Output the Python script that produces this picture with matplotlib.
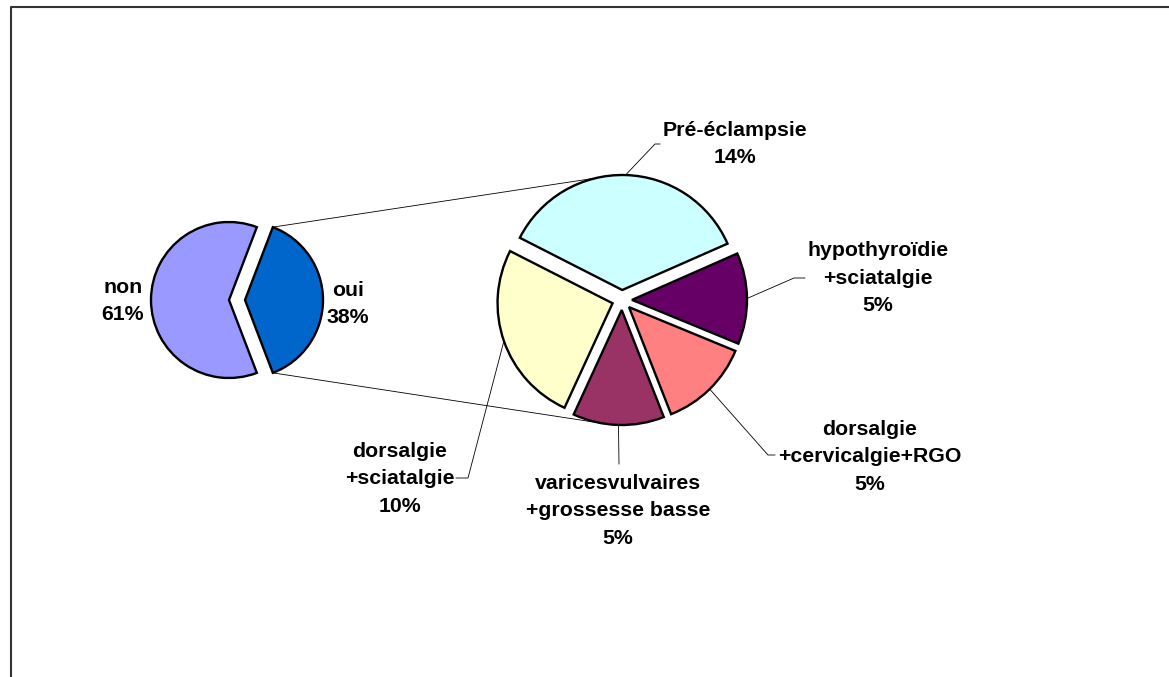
import numpy as np
import matplotlib.pyplot as plt

plt.rcParams["font.family"] = ["Liberation Sans", "DejaVu Sans"]

# data
main_labels = ["non\n61%", "oui\n38%"]
main_values = [61, 38]
main_colors = ["#9999FF", "#0066CC"]

detail_labels = [
    "Pré-éclampsie\n14%",
    "hypothyroïdie\n+sciatalgie\n5%",
    "dorsalgie\n+cervicalgie+RGO\n5%",
    "varicesvulvaires\n+grossesse basse\n5%",
    "dorsalgie\n+sciatalgie\n10%",
]
detail_values = [14, 5, 5, 5, 10]
detail_colors = ["#CCFFFF", "#660066", "#FF8080", "#993366", "#FFFFCC"]

# layout, in pixels from the top-left corner
W, H = 1169, 677
main_center, main_r = (229, 300), 78
detail_center, detail_r = (622, 300), 115
main_text_pos = [(123, 301), (348, 304)]
detail_text_pos = [(735, 144), (878, 278), (870, 457), (618, 511), (400, 479)]
# leader line: elbow point then end point
leaders = [
    [(655, 144), (660, 144)],
    [(794, 278), (805, 278)],
    [(768, 455), (775, 455)],
    [(619, 464)],
    [(468, 478), (456, 478)],
]


def px(x, y):
    return x, H - y


fig = plt.figure(figsize=(W / 100, H / 100), dpi=100)
ax = fig.add_axes([0, 0, 1, 1])

edge = dict(edgecolor="black", linewidth=1.7)

# explode is in data units (pixels here)
frac_oui = main_values[1] / sum(main_values)
wm, _ = ax.pie(main_values, colors=main_colors, center=px(*main_center),
               radius=main_r, startangle=180 * frac_oui, counterclock=True,
               explode=[0, 16], wedgeprops=edge, frame=True)

wd, _ = ax.pie(detail_values, colors=detail_colors, center=px(*detail_center),
               radius=detail_r, startangle=153, counterclock=False,
               explode=[10] * len(detail_values), wedgeprops=edge, frame=True)


def arc_point(w, ang):
    a = np.radians(ang)
    return w.center[0] + w.r * np.cos(a), w.center[1] + w.r * np.sin(a)


# connector lines between the two pies
oui = wm[1]
top_a = arc_point(oui, oui.theta2)
bot_a = arc_point(oui, oui.theta1)
top_b = arc_point(wd[0], 103)
bot_b = arc_point(wd[3], -99)
for p, q in [(top_a, top_b), (bot_a, bot_b)]:
    ax.plot([p[0], q[0]], [p[1], q[1]], color="black", lw=0.6, zorder=0)

# labels
for lab, pos in zip(main_labels, main_text_pos):
    ax.text(*px(*pos), lab, ha="center", va="center", fontsize=15.3,
            fontweight="bold", linespacing=1.58)

for w, lab, pos, pts in zip(wd, detail_labels, detail_text_pos, leaders):
    ax.text(*px(*pos), lab, ha="center", va="center", fontsize=15.3,
            fontweight="bold", linespacing=1.58)
    mid = (w.theta1 + w.theta2) / 2
    start = arc_point(w, mid)
    xs = [start[0]] + [p[0] for p in pts]
    ys = [start[1]] + [H - p[1] for p in pts]
    ax.plot(xs, ys, color="black", lw=0.6)

# chart area border (left and top only)
ax.plot([10.5, 10.5, W], [0, H - 6.5, H - 6.5], color="#333333", lw=1.5,
        solid_capstyle="butt")

ax.set_xlim(0, W)
ax.set_ylim(0, H)
ax.set_aspect("equal")
ax.axis("off")

fig.savefig("out.png", dpi=100, facecolor="white")
